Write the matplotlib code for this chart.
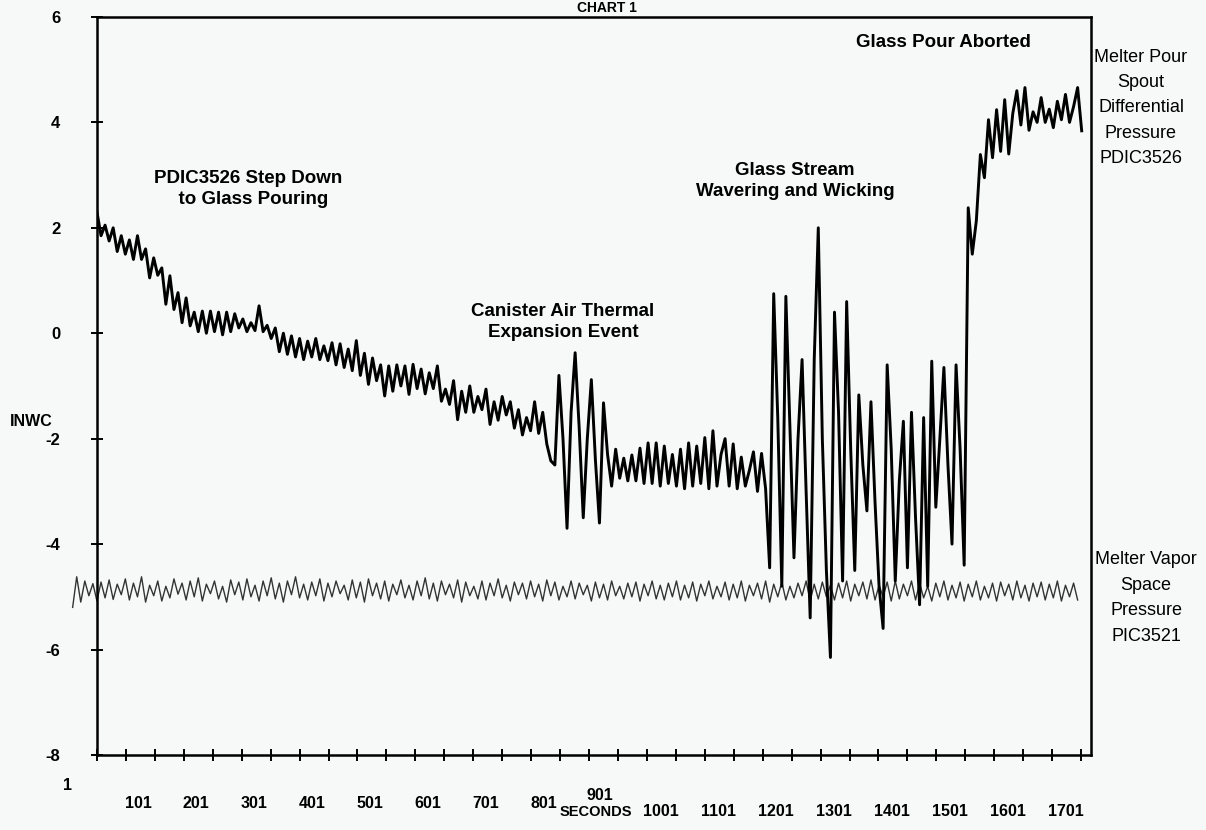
import numpy as np
import matplotlib.pyplot as plt

plt.rcParams['font.family'] = ['Liberation Sans', 'DejaVu Sans']

# PDIC3526 - melter pour spout differential pressure (INWC), one reading every 7 s
pdic_t0 = 1
pdic_dt = 7
pdic = [
    2.30, 1.85, 2.05, 1.75, 2.00, 1.55, 1.85, 1.50, 1.77, 1.40,
    1.85, 1.40, 1.60, 1.05, 1.43, 1.10, 1.24, 0.55, 1.09, 0.45,
    0.77, 0.20, 0.67, 0.14, 0.40, 0.03, 0.42, 0.00, 0.42, 0.03,
    0.40, -0.03, 0.40, 0.03, 0.37, 0.10, 0.27, 0.03, 0.20, 0.05,
    0.52, 0.03, 0.15, -0.10, 0.10, -0.35, 0.00, -0.40, -0.05, -0.45,
    -0.10, -0.50, -0.15, -0.45, -0.10, -0.50, -0.24, -0.52, -0.18, -0.60,
    -0.20, -0.65, -0.30, -0.71, -0.14, -0.80, -0.38, -0.97, -0.47, -0.90,
    -0.60, -1.19, -0.62, -1.10, -0.60, -1.00, -0.62, -1.16, -0.59, -1.05,
    -0.68, -1.15, -0.75, -1.05, -0.62, -1.29, -1.06, -1.35, -0.90, -1.64,
    -1.10, -1.50, -1.00, -1.50, -1.20, -1.45, -1.06, -1.73, -1.30, -1.65,
    -1.20, -1.55, -1.30, -1.80, -1.45, -1.93, -1.60, -1.85, -1.30, -1.90,
    -1.50, -2.10, -2.42, -2.50, -0.80, -2.00, -3.70, -1.50, -0.37, -1.80,
    -3.50, -2.00, -0.88, -2.40, -3.60, -1.32, -2.30, -2.90, -2.20, -2.75,
    -2.37, -2.80, -2.31, -2.80, -2.18, -2.85, -2.08, -2.85, -2.08, -2.90,
    -2.14, -2.85, -2.30, -2.90, -2.20, -2.95, -2.08, -2.90, -2.14, -2.85,
    -1.98, -2.95, -1.85, -2.90, -2.30, -2.00, -2.90, -2.10, -2.95, -2.35,
    -2.90, -2.60, -2.25, -3.00, -2.28, -2.95, -4.45, 0.75, -1.60, -4.80,
    0.70, -1.80, -4.26, -2.00, -0.50, -3.00, -5.40, -0.50, 2.00, -2.00,
    -4.50, -6.15, 0.40, -1.50, -4.70, 0.60, -2.20, -4.50, -1.17, -2.50,
    -3.37, -1.30, -3.20, -4.80, -5.60, -0.60, -2.20, -4.70, -2.80, -1.67,
    -4.45, -1.50, -3.50, -5.15, -1.60, -4.80, -0.53, -3.30, -2.00, -0.65,
    -2.50, -4.00, -0.60, -2.20, -4.40, 2.38, 1.50, 2.13, 3.39, 2.95,
    4.05, 3.33, 4.24, 3.45, 4.43, 3.40, 4.17, 4.60, 3.95, 4.66,
    3.85, 4.20, 4.00, 4.47, 4.00, 4.25, 3.90, 4.40, 4.05, 4.53,
    4.00, 4.30, 4.66, 3.84,
]

# PIC3521 - melter vapor space pressure (INWC), one reading every 7 s
vapor_t0 = -41
vapor_dt = 7
vapor = [
    -5.20, -4.62, -5.10, -4.70, -4.98, -4.75, -5.08, -4.72, -5.02, -4.68,
    -5.05, -4.76, -4.96, -4.66, -5.06, -4.74, -5.00, -4.62, -5.10, -4.78,
    -4.98, -4.70, -5.08, -4.80, -5.02, -4.66, -4.95, -4.74, -5.06, -4.70,
    -5.00, -4.64, -5.08, -4.76, -4.94, -4.70, -5.04, -4.80, -5.10, -4.68,
    -4.96, -4.72, -5.06, -4.66, -5.00, -4.78, -5.08, -4.70, -4.98, -4.64,
    -5.04, -4.74, -5.10, -4.70, -4.96, -4.62, -5.02, -4.76, -5.06, -4.72,
    -4.98, -4.66, -5.08, -4.74, -5.00, -4.70, -4.94, -4.78, -5.06, -4.68,
    -5.02, -4.72, -5.10, -4.66, -4.98, -4.74, -5.04, -4.70, -5.08, -4.76,
    -4.96, -4.68, -5.02, -4.78, -5.06, -4.70, -4.98, -4.64, -5.04, -4.74,
    -5.08, -4.70, -4.96, -4.76, -5.02, -4.68, -5.10, -4.72, -4.98, -4.80,
    -5.04, -4.70, -5.06, -4.74, -4.98, -4.66, -5.02, -4.78, -5.08, -4.72,
    -4.96, -4.74, -5.04, -4.70, -5.00, -4.76, -5.08, -4.68, -4.98, -4.72,
    -5.06, -4.80, -5.00, -4.70, -5.04, -4.74, -4.96, -4.78, -5.08, -4.72,
    -5.02, -4.76, -5.06, -4.70, -4.98, -4.80, -5.04, -4.74, -5.00, -4.72,
    -5.08, -4.76, -4.98, -4.70, -5.04, -4.78, -5.06, -4.74, -5.00, -4.70,
    -5.06, -4.78, -5.02, -4.72, -5.08, -4.76, -4.98, -4.70, -5.04, -4.80,
    -5.00, -4.72, -5.06, -4.76, -5.02, -4.70, -5.08, -4.78, -4.98, -4.74,
    -5.04, -4.70, -5.10, -4.76, -5.00, -4.72, -5.06, -4.80, -5.02, -4.74,
    -4.98, -4.70, -5.08, -4.76, -5.04, -4.72, -5.00, -4.78, -5.06, -4.74,
    -5.02, -4.70, -5.08, -4.76, -4.98, -4.72, -5.04, -4.68, -5.06, -4.78,
    -5.00, -4.72, -5.08, -4.70, -5.04, -4.76, -4.98, -4.70, -5.06, -4.74,
    -5.02, -4.80, -5.08, -4.74, -5.00, -4.70, -5.06, -4.78, -5.02, -4.72,
    -5.08, -4.76, -5.00, -4.70, -5.06, -4.80, -5.02, -4.74, -5.08, -4.72,
    -4.98, -4.76, -5.06, -4.70, -5.02, -4.78, -5.08, -4.74, -5.00, -4.72,
    -5.06, -4.76, -5.02, -4.70, -5.08, -4.78, -5.00, -4.74, -5.06,
]

yticks = [-8, -6, -4, -2, 0, 2, 4, 6]
ytick_labels = ['-8', '-6', '-4', '-2', '0', '2', '4', '6']
xticks = list(range(1, 1702, 50))
xtick_labels = ['1', '101', '201', '301', '401', '501', '601', '701', '801', '901',
                '1001', '1101', '1201', '1301', '1401', '1501', '1601', '1701']

bg = '#f7f8f8'

def label_offset(lab):
    # the scanned chart puts its x labels on staggered rows
    v = int(lab)
    if v == 1:
        return -21, -22
    if v < 900:
        return -12, -35
    if v == 901:
        return -13, -29
    return -11, -41

def plot_chart():
    fig = plt.figure(figsize=(12.06, 8.30), dpi=100, facecolor=bg)
    ax = fig.add_axes([0.0804, 0.0904, 0.8242, 0.8892], facecolor=bg)

    vt = vapor_t0 + vapor_dt*np.arange(len(vapor))
    pt = pdic_t0 + pdic_dt*np.arange(len(pdic))
    ax.plot(vt, vapor, color='#333333', lw=1.0, clip_on=False)
    ax.plot(pt, pdic, color='black', lw=2.1)

    ax.set_xlim(1, 1718)
    ax.set_ylim(-8, 6)
    ax.set_xticks(xticks)
    ax.set_xticklabels([])
    ax.set_yticks(yticks)
    ax.set_yticklabels(ytick_labels, fontsize=12, fontweight='bold')
    ax.tick_params(axis='x', direction='inout', length=9, width=1.4)
    ax.tick_params(axis='y', direction='inout', length=9, width=1.4, pad=22)
    for s in ax.spines.values():
        s.set_linewidth(1.8)

    for lab in xtick_labels:
        dx, dy = label_offset(lab)
        ax.annotate(lab, xy=(int(lab), 0), xycoords=('data', 'axes fraction'),
                    xytext=(dx, dy), textcoords='offset points', ha='center', va='center',
                    fontsize=11.5, fontweight='bold', annotation_clip=False)
    ax.annotate('SECONDS', xy=(901, 0), xycoords=('data', 'axes fraction'),
                xytext=(-16, -41), textcoords='offset points', ha='center', va='center',
                fontsize=10.5, fontweight='bold', annotation_clip=False)

    fig.text(31/1206.0, 1 - 421/830.0, 'INWC', ha='center', va='center',
             fontsize=11.5, fontweight='bold')
    fig.text(607/1206.0, 1 - 1/830.0, 'CHART 1', ha='center', va='top',
             fontsize=10, fontweight='bold')

    note = dict(ha='center', va='center', fontsize=13.5, fontweight='bold',
                multialignment='center', linespacing=1.3)
    ax.text(262, 2.74, 'PDIC3526 Step Down\n  to Glass Pouring', **note)
    ax.text(806, 0.22, 'Canister Air Thermal\nExpansion Event', **note)
    ax.text(1207, 2.89, 'Glass Stream\nWavering and Wicking', **note)
    ax.text(1463, 5.51, 'Glass Pour Aborted', **note)

    side = dict(ha='center', va='center', fontsize=13, linespacing=1.65,
                multialignment='center')
    fig.text(1141/1206.0, 1 - 108/830.0,
             'Melter Pour\nSpout\nDifferential\nPressure\nPDIC3526', **side)
    fig.text(1146/1206.0, 1 - 598/830.0,
             'Melter Vapor\nSpace\nPressure\nPIC3521', **side)

    fig.savefig('out.png', dpi=100, facecolor=bg)

if __name__ == '__main__':
    plot_chart()
